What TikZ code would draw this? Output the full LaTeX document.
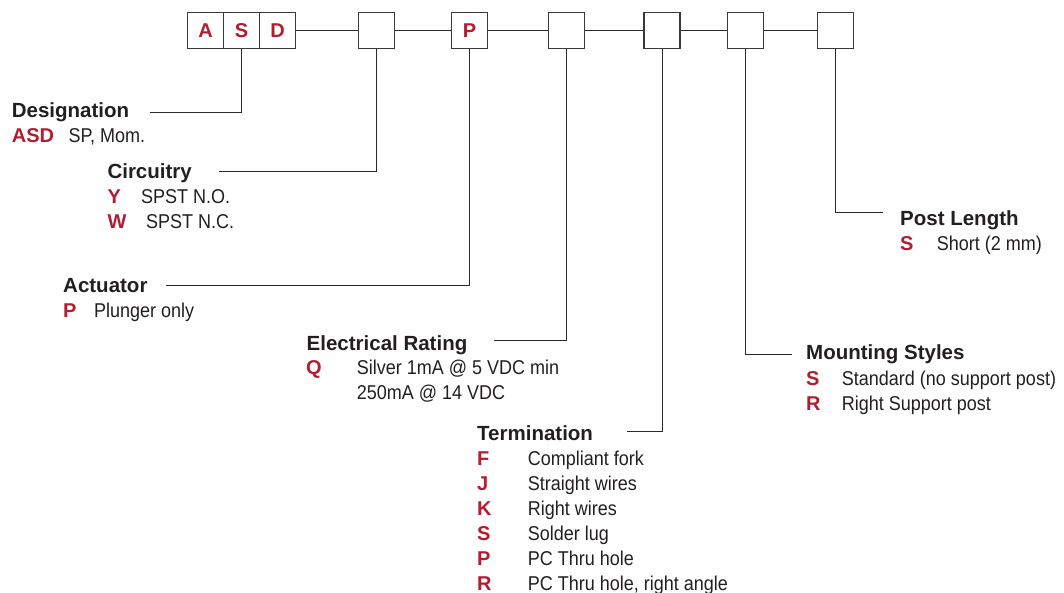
\documentclass[tikz,border=0pt]{standalone}
\usepackage{fontspec}
\setmainfont{Liberation Sans}
\newfontfamily\narrowfam[FakeStretch=0.9]{Liberation Sans}
\definecolor{codered}{HTML}{B01E30}
\definecolor{textblack}{HTML}{231F20}
\definecolor{boxgray}{HTML}{3A3A3A}
\definecolor{linegray}{HTML}{2A2A2A}
\newcommand{\headfnt}{\bfseries\fontsize{20.5}{24}\selectfont}
\newcommand{\codefnt}{\bfseries\fontsize{20}{24}\selectfont}
\newcommand{\descfnt}{\narrowfam\fontsize{20}{24}\selectfont}
\begin{document}
\begin{tikzpicture}[x=1pt,y=-1pt,
 cbox/.style={draw=boxgray, line width=1.4pt, minimum width=36pt, minimum height=36pt, inner sep=0pt, fill=white, font=\codefnt, text=codered},
 lead/.style={draw=linegray, line width=1pt},
 head/.style={anchor=base west, inner sep=0pt, font=\headfnt, text=textblack},
 code/.style={anchor=base west, inner sep=0pt, font=\codefnt, text=codered},
 desc/.style={anchor=base west, inner sep=0pt, font=\descfnt, text=textblack}]
\useasboundingbox (0,0) rectangle (1064,592);
% boxes
\node[cbox] (bA) at (205.5,30.5) {A};
\node[cbox] (bS) at (241.5,30.5) {S};
\node[cbox] (bD) at (277.5,30.5) {D};
\node[cbox] (b2) at (376.3,30.5) {};
\node[cbox] (bP) at (469.5,30.5) {P};
\node[cbox] (b4) at (566.5,30.5) {};
\node[cbox] (b5) at (662,30.5) {};
\node[cbox] (b6) at (745.5,30.5) {};
\node[cbox] (b7) at (835.7,30.5) {};
\draw[lead] (bD.east) -- (b2.west);
\draw[lead] (b2.east) -- (bP.west);
\draw[lead] (bP.east) -- (b4.west);
\draw[lead] (b4.east) -- (b5.west);
\draw[lead] (b5.east) -- (b6.west);
\draw[lead] (b6.east) -- (b7.west);
% Designation
\node[head] (desig) at (11.7,117.3) {Designation};
\node[code] (desigc) at (11.7,142.7) {ASD};
\node[desc] (desigd) at (68.3,142.7) {SP, Mom.};
\coordinate (desigL) at (150,112.7);
\draw[lead] (bS.south) |- (desigL);
% Circuitry
\node[head] (circ) at (107.3,178.3) {Circuitry};
\node[code] (circY) at (107.3,203.3) {Y};
\node[desc] (circYd) at (141,203.3) {SPST N.O.};
\node[code] (circW) at (107.3,228.3) {W};
\node[desc] (circWd) at (146,228.3) {SPST N.C.};
\coordinate (circL) at (218.7,171);
\draw[lead] (b2.south) |- (circL);
% Actuator
\node[head] (act) at (63,292.7) {Actuator};
\node[code] (actP) at (63,317.7) {P};
\node[desc] (actPd) at (94,317.7) {Plunger only};
\coordinate (actL) at (166,285.3);
\draw[lead] (bP.south) |- (actL);
% Electrical Rating
\node[head] (elec) at (306.5,350) {Electrical Rating};
\node[code] (elecQ) at (306,374) {Q};
\node[desc] (elecQd) at (356.7,374) {Silver 1mA @ 5 VDC min};
\node[desc] (elecQd2) at (356.7,399.3) {250mA @ 14 VDC};
\coordinate (elecL) at (494,340);
\draw[lead] (b4.south) |- (elecL);
% Termination
\node[head] (term) at (477,440.7) {Termination};
\node[code] (tF) at (477,465.7) {F};
\node[desc] (tFd) at (527.7,465.7) {Compliant fork};
\node[code] (tJ) at (477,490.7) {J};
\node[desc] (tJd) at (527.7,490.7) {Straight wires};
\node[code] (tK) at (477,515.7) {K};
\node[desc] (tKd) at (527.7,515.7) {Right wires};
\node[code] (tS) at (477,540.7) {S};
\node[desc] (tSd) at (527.7,540.7) {Solder lug};
\node[code] (tP) at (477,565.7) {P};
\node[desc] (tPd) at (527.7,565.7) {PC Thru hole};
\node[code] (tR) at (477,590.2) {R};
\node[desc] (tRd) at (527.7,590.2) {PC Thru hole, right angle};
\coordinate (termL) at (626.7,431.7);
\draw[lead] (b5.south) |- (termL);
% Mounting Styles
\node[head] (mount) at (806,359.3) {Mounting Styles};
\node[code] (mS) at (806,385) {S};
\node[desc] (mSd) at (841.7,385) {Standard (no support post)};
\node[code] (mR) at (806,410) {R};
\node[desc] (mRd) at (841.7,410) {Right Support post};
\coordinate (mountL) at (791.7,354);
\draw[lead] (b6.south) |- (mountL);
% Post Length
\node[head] (post) at (900,225) {Post Length};
\node[code] (pS) at (900,250.7) {S};
\node[desc] (pSd) at (936.7,250.7) {Short (2 mm)};
\coordinate (postL) at (882.7,212.3);
\draw[lead] (b7.south) |- (postL);
\end{tikzpicture}
\end{document}
